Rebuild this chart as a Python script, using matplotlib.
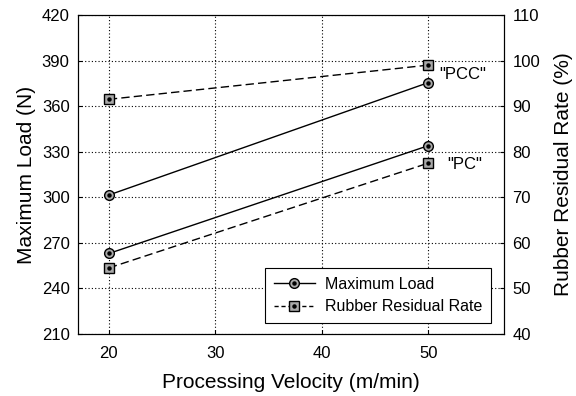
import matplotlib
matplotlib.use('Agg')
import matplotlib.pyplot as plt
from matplotlib.lines import Line2D
from matplotlib.legend_handler import HandlerTuple

plt.rcParams['font.family'] = ['Liberation Sans', 'DejaVu Sans']

velocity = [20, 50]
# 最大载荷 (N)
load_pcc = [301.5, 375.5]
load_pc = [263, 334]
# 橡胶残留率 (%)
rate_pcc = [91.5, 99]
rate_pc = [54.5, 77.5]

fig = plt.figure(figsize=(5.76, 3.96), dpi=100)
ax = fig.add_axes([78 / 576, 1 - 334 / 396, 426 / 576, 319 / 396])
ax2 = ax.twinx()

mk_c = dict(marker='o', markersize=7, markerfacecolor='#a8a8a8', markeredgecolor='black', markeredgewidth=1.0)
mk_s = dict(marker='s', markersize=6.5, markerfacecolor='#a8a8a8', markeredgecolor='black', markeredgewidth=1.0)
dot = dict(marker='o', markersize=2.2, color='black', linestyle='none')

for y in (load_pcc, load_pc):
    ax.plot(velocity, y, color='black', linewidth=1.0, **mk_c)
    ax.plot(velocity, y, **dot)
for y in (rate_pcc, rate_pc):
    ax2.plot(velocity, y, color='black', linewidth=1.0, linestyle=(0, (6, 3)), **mk_s)
    ax2.plot(velocity, y, **dot)

ax.set_xlim(17.1, 57.1)
ax.set_ylim(210, 420)
ax2.set_ylim(40, 110)
ax.set_xticks([20, 30, 40, 50])
ax.set_yticks(range(210, 421, 30))
ax2.set_yticks(range(40, 111, 10))

ax.grid(True, linestyle=(0, (1, 2)), color='black', linewidth=0.8)
for a in (ax, ax2):
    a.tick_params(direction='in', length=3, labelsize=12, pad=6)
ax.tick_params(axis='x', pad=9)

ax.set_xlabel('Processing Velocity (m/min)', fontsize=15, labelpad=8)
ax.set_ylabel('Maximum Load (N)', fontsize=15, labelpad=4)
ax2.set_ylabel('Rubber Residual Rate (%)', fontsize=15, labelpad=10)

ax2.text(51.0, 96.9, '"PCC"', fontsize=12, va='center')
ax2.text(51.8, 77.3, '"PC"', fontsize=12, va='center')

h_load = (Line2D([], [], color='black', linewidth=1.0, **mk_c), Line2D([], [], **dot))
h_rate = (Line2D([], [], color='black', linewidth=1.0, linestyle=(0, (3, 2)), **mk_s), Line2D([], [], **dot))
leg = ax2.legend([h_load, h_rate], ['Maximum Load', 'Rubber Residual Rate'], loc='lower right',
                 bbox_to_anchor=(0.969, 0.0345), borderaxespad=0, fontsize=11.5, fancybox=False,
                 edgecolor='black', framealpha=1, handlelength=2.6, borderpad=0.55,
                 labelspacing=0.45, handletextpad=0.6,
                 handler_map={tuple: HandlerTuple(ndivide=1)})
leg.get_frame().set_linewidth(0.8)

fig.savefig('out.png', dpi=100)
